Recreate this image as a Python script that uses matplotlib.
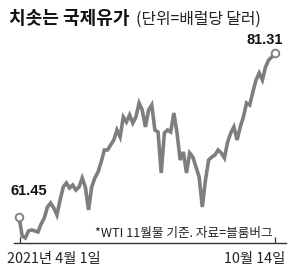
import matplotlib
matplotlib.use("Agg")
import matplotlib.pyplot as plt
import numpy as np

plt.rcParams['font.family'] = ['Noto Sans CJK KR', 'DejaVu Sans']

# WTI 11월물, 2021-04-01 ~ 2021-10-14
wti = [61.45, 59.15, 58.91, 59.76, 59.88, 59.76, 59.63, 60.60, 61.33, 62.66,
       63.14, 62.54, 61.69, 63.51, 65.08, 65.57, 64.96, 65.32, 64.72, 65.08,
       66.17, 65.08, 62.30, 65.08, 66.17, 66.90, 68.11, 69.56, 69.56, 70.17,
       70.77, 71.98, 71.14, 73.56, 72.95, 73.80, 72.83, 73.56, 75.25, 74.40,
       72.35, 74.40, 75.01, 71.98, 71.74, 66.78, 71.62, 71.98, 71.74, 74.04,
       71.62, 68.35, 69.32, 66.78, 69.20, 68.71, 67.50, 66.29, 62.66, 65.93,
       68.35, 68.71, 68.96, 69.56, 69.20, 68.59, 70.53, 71.62, 72.35, 70.77,
       72.35, 73.56, 75.25, 75.01, 76.58, 78.04, 78.88, 78.04, 79.61, 80.46,
       80.82, 81.31]
start_label = "2021년 4월 1일"
end_label = "10월 14일"
title = "치솟는 국제유가"
unit = "(단위=배럴당 달러)"
note = "*WTI 11월물 기준. 자료=블룸버그"

W, H = 300, 279
fig = plt.figure(figsize=(W / 100, H / 100), dpi=100)

n = len(wti)
x = np.arange(n)
x0, x1 = 19, 275          # pixel span of the line
ppx = (x1 - x0) / (n - 1)
ax_l, ax_r, ax_t, ax_b = 14, 286, 40, 243
ax = fig.add_axes([ax_l / W, 1 - ax_b / H, (ax_r - ax_l) / W, (ax_b - ax_t) / H])
ax.set_xlim(-(x0 - ax_l) / ppx, (n - 1) + (ax_r - x1) / ppx)
ax.set_ylim(58.30, 82.88)

col = '#7e7e80'
ax.plot(x, wti, color=col, lw=2.6, solid_joinstyle='miter', zorder=2)
ax.plot([x[0], x[-1]], [wti[0], wti[-1]], 'o', ms=5.5, mfc='white',
        mec=col, mew=1.3, zorder=3)

for s in ['top', 'right', 'left']:
    ax.spines[s].set_visible(False)
ax.spines['bottom'].set_color('#333333')
ax.spines['bottom'].set_linewidth(1.0)
ax.set_yticks([])
ax.set_xticks([x[0] + 0.3, x[-1]])
ax.set_xticklabels([])
ax.tick_params(axis='x', direction='in', length=4, width=0.9, color='#333333')
ax.patch.set_alpha(0)

ax.annotate(f"{wti[0]:.2f}", (x[0], wti[0]), xytext=(-6, 14), textcoords='offset points',
            fontsize=10.5, fontweight='bold', color='#111111', ha='left', va='bottom',
            family=['Liberation Sans Narrow', 'Liberation Sans', 'DejaVu Sans'])
ax.annotate(f"{wti[-1]:.2f}", (x[-1], wti[-1]), xytext=(6, 4), textcoords='offset points',
            fontsize=10.5, fontweight='bold', color='#111111', ha='right', va='bottom',
            family=['Liberation Sans Narrow', 'Liberation Sans', 'DejaVu Sans'])

fig.text(9 / W, 1 - 19 / H, title, fontsize=13.0, fontweight='bold', color='#111111',
         va='center', ha='left')
fig.text(136 / W, 1 - 19 / H, unit, fontsize=11.4, color='#222222', va='center', ha='left')
fig.text(273 / W, 1 - 233 / H, note, fontsize=9.1, color='#222222', va='center', ha='right')
fig.text(7 / W, 1 - 259 / H, start_label, fontsize=10.3, color='#222222', va='center', ha='left')
fig.text(285 / W, 1 - 259 / H, end_label, fontsize=10.3, color='#222222', va='center', ha='right')

fig.savefig('out.png', dpi=100, facecolor='white')
